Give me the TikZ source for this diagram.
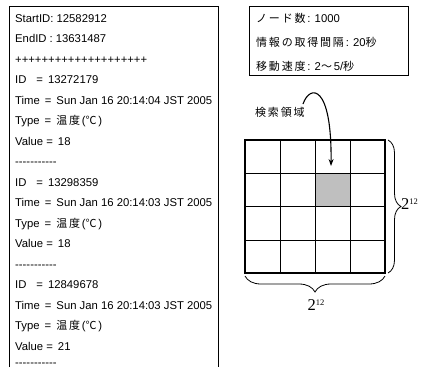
\documentclass[tikz,border=0pt]{standalone}
\usepackage{fontspec}
\setmainfont{Liberation Sans}
\newfontfamily\jp{Noto Sans CJK JP}
\newfontfamily\tnr{Liberation Serif}
\usetikzlibrary{arrows.meta,decorations.pathreplacing}
\def\jsp#1{\ifx#1\relax\else#1\hskip1.8pt\expandafter\jsp\fi}
\newcommand\jt[1]{{\jp\fontsize{11}{13}\selectfont\jsp#1\relax}}
\newcommand\pow{{\tnr\fontsize{16.5}{18}\selectfont 2\raisebox{5.3pt}{\fontsize{8.5}{9}\selectfont 12}}}
\newcommand\hy{-\kern0pt}
\newcommand\dashrow{\hy\hy\hy\hy\hy\hy\hy\hy\hy\hy\hy}
\begin{document}
\begin{tikzpicture}[x=1pt,y=-1pt,
  txt/.style={anchor=base west,inner sep=0pt,font=\fontsize{11.3}{13}\selectfont},
  panel/.style={line width=0.8pt},
  thin grid/.style={line width=0.8pt},
  thick grid/.style={line width=1.8pt},
  cellfill/.style={fill=black!25},
  bracestyle/.style={decorate,line width=0.8pt},
  pointer/.style={line width=1.1pt,-{Stealth[length=7pt,width=5pt]}}]
\useasboundingbox (0,0) rectangle (425,367);
% left panel
\draw[panel] (9,367) -- (9,6.5) -- (218,6.5) -- (218,367);
\node[txt] (l1) at (15,22) {StartID: 12582912};
\node[txt] (l2) at (15,42.5) {EndID\hspace{3pt}: 13631487};
\node[txt] (l3) at (15,63) {++++++++++++++++++++};
\node[txt] (l4) at (15,83.5) {ID\hspace{10pt}=\hspace{5pt}13272179};
\node[txt] (l5) at (15,104) {Time\hspace{5pt}=\hspace{5pt}Sun Jan 16 20:14:04 JST 2005};
\node[txt] (l6) at (15,124.5) {Type\hspace{5pt}=\hspace{5pt}\jt{温度}(\jt{℃})};
\node[txt] (l7) at (15,145) {Value =\hspace{5pt}18};
\node[txt] (l8) at (15,165.5) {\dashrow};
\node[txt] (l9) at (15,186) {ID\hspace{10pt}=\hspace{5pt}13298359};
\node[txt] (l10) at (15,206.5) {Time\hspace{5pt}=\hspace{5pt}Sun Jan 16 20:14:03 JST 2005};
\node[txt] (l11) at (15,227) {Type\hspace{5pt}=\hspace{5pt}\jt{温度}(\jt{℃})};
\node[txt] (l12) at (15,247.5) {Value =\hspace{5pt}18};
\node[txt] (l13) at (15,268) {\dashrow};
\node[txt] (l14) at (15,288.5) {ID\hspace{10pt}=\hspace{5pt}12849678};
\node[txt] (l15) at (15,309) {Time\hspace{5pt}=\hspace{5pt}Sun Jan 16 20:14:03 JST 2005};
\node[txt] (l16) at (15,329.5) {Type\hspace{5pt}=\hspace{5pt}\jt{温度}(\jt{℃})};
\node[txt] (l17) at (15,350) {Value =\hspace{5pt}21};
\node[txt] (l18) at (15,366.5) {\dashrow};
% info box
\draw[panel] (249,6) rectangle (408,75);
\node[txt] (i1) at (256,22) {\jt{ノード数}: 1000};
\node[txt] (i2) at (256,46) {\jt{情報の取得間隔}: 20\jt{秒}};
\node[txt] (i3) at (256,70) {\jt{移動速度}: 2\jt{〜}5/\jt{秒}};
% search label and arrow
\node[txt] (lab) at (255,116) {\jt{検索領域}};
\coordinate (as) at (303,104);
\coordinate (ae) at (331,166);
\draw[pointer] (as) .. controls (310,84) and (332,84) .. (ae);
% grid
\fill[cellfill] (315,173) rectangle (350,206);
\foreach \x in {280,315,350} \draw[thin grid] (\x,140) -- (\x,273);
\foreach \y in {173,206,240} \draw[thin grid] (245,\y) -- (385,\y);
\draw[thick grid] (245,140) rectangle (385,273);
% braces
\draw[bracestyle,decoration={brace,amplitude=13pt}] (388,140) -- (388,273);
\node[anchor=west,inner sep=0pt] (px) at (401,204) {\pow};
\draw[bracestyle,decoration={brace,amplitude=16pt}] (385,276) -- (245,276);
\node[inner sep=0pt] (py) at (316,305) {\pow};
\end{tikzpicture}
\end{document}
